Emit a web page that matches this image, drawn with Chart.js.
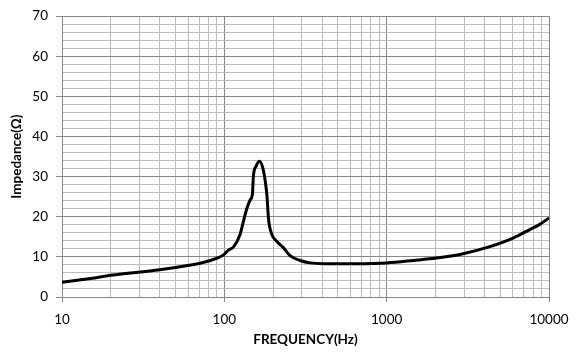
<!DOCTYPE html>
<html>
<head>
<meta charset="utf-8">
<script src="https://cdn.jsdelivr.net/npm/chart.js@4"></script>
<style>
  html, body { margin: 0; padding: 0; background: #fff; }
  canvas { display: block; }
</style>
</head>
<body>
<canvas id="chart" width="577" height="361"></canvas>
<script>
// values
const freqHz = [10, 15, 20, 40, 65, 71, 82, 99, 106, 114, 125, 131, 137.5, 144, 149, 151, 157, 164.5, 172.5, 178, 183, 187, 196, 210, 231, 254, 293, 337, 407, 718, 1000, 1460, 2030, 2958, 4120, 6010, 7620, 8770, 10000];
const impedance = [3.7, 4.6, 5.4, 6.8, 8.1, 8.4, 9.1, 10.5, 11.7, 12.5, 15.6, 18.8, 22.0, 24.1, 25.7, 30.1, 32.6, 33.8, 32.2, 29.3, 25.3, 19.6, 15.6, 13.9, 12.3, 10.3, 9.1, 8.5, 8.3, 8.3, 8.5, 9.1, 9.7, 10.8, 12.3, 14.7, 16.8, 18.1, 19.7];

const xTickLabels = ['10', '100', '1000', '10000'];
const yTickLabels = ['0', '10', '20', '30', '40', '50', '60', '70'];

const MAJOR = '#868686';
const MINOR = '#bcbcbc';
const FONT = 'Lato, "Open Sans", sans-serif';

const isDecade = (v) => xTickLabels.includes(String(Math.round(v)));
const isMajorY = (v) => yTickLabels.includes(String(v));

new Chart(document.getElementById('chart'), {
  type: 'line',
  data: {
    datasets: [{
      data: freqHz.map((f, i) => ({ x: f, y: impedance[i] })),
      borderColor: '#000',
      borderWidth: 3,
      pointRadius: 0,
      cubicInterpolationMode: 'monotone',
      fill: false
    }]
  },
  options: {
    responsive: false,
    animation: false,
    layout: { padding: { left: 0, right: 28, top: 9, bottom: 0 } },
    plugins: { legend: { display: false }, tooltip: { enabled: false } },
    scales: {
      x: {
        type: 'logarithmic',
        min: 10,
        max: 10000,
        afterBuildTicks(scale) {
          // 1..9 per decade for the log grid
          const t = [];
          for (let d = 10; d < 10000; d *= 10) {
            for (let k = 1; k < 10; k++) t.push({ value: d * k });
          }
          t.push({ value: 10000 });
          scale.ticks = t;
        },
        afterFit(scale) {
          scale.height = 64;
          scale.paddingLeft = 0;
          scale.paddingRight = 0;
        },
        border: { color: MAJOR },
        grid: {
          color: (c) => isDecade(c.tick.value) ? MAJOR : MINOR,
          tickColor: (c) => isDecade(c.tick.value) ? MAJOR : 'rgba(0,0,0,0)',
          tickLength: 5
        },
        ticks: {
          autoSkip: false,
          maxRotation: 0,
          padding: 10,
          color: '#000',
          font: { family: FONT, size: 13.5 },
          callback: (v) => isDecade(v) ? String(Math.round(v)) : ''
        },
        title: {
          display: true,
          text: 'FREQUENCY(Hz)',
          color: '#000',
          font: { family: FONT, size: 13.5, weight: 'bold' },
          padding: { top: 0, bottom: 13 }
        }
      },
      y: {
        min: 0,
        max: 70,
        afterFit(scale) { scale.width = 62; },
        border: { color: MAJOR },
        grid: {
          color: (c) => isMajorY(c.tick.value) ? MAJOR : MINOR,
          tickColor: (c) => isMajorY(c.tick.value) ? MAJOR : 'rgba(0,0,0,0)',
          tickLength: 6
        },
        ticks: {
          stepSize: 2,
          autoSkip: false,
          padding: 8,
          color: '#000',
          font: { family: FONT, size: 13.5 },
          callback: (v) => isMajorY(v) ? String(v) : ''
        },
        title: {
          display: true,
          text: 'Impedance(Ω)',
          color: '#000',
          font: { family: FONT, size: 13.5, weight: 'bold' },
          padding: { top: 9, bottom: 0 }
        }
      }
    }
  }
});
</script>
</body>
</html>
